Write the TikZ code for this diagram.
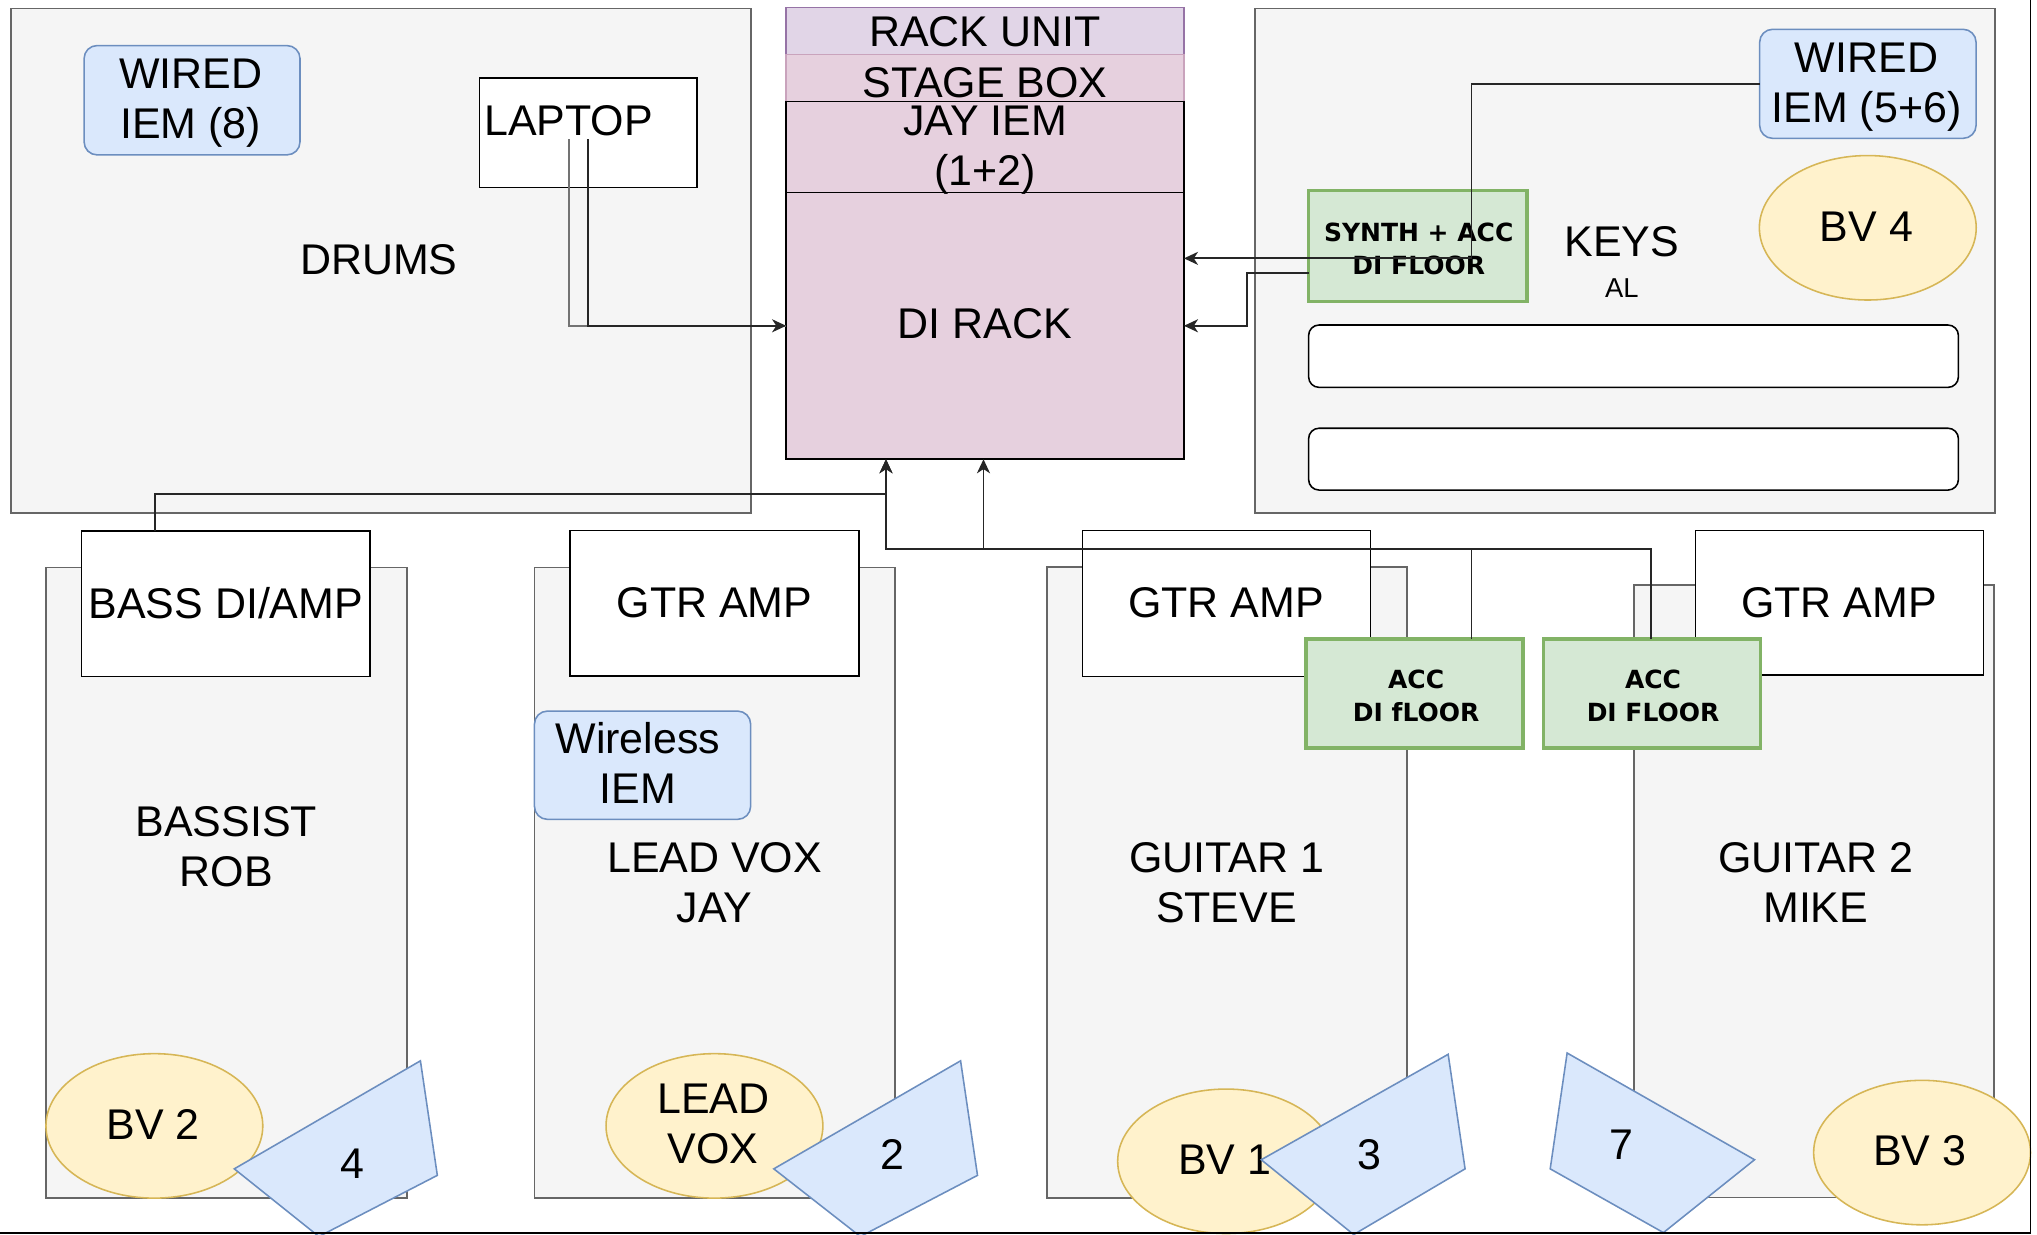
\documentclass[tikz,border=0pt]{standalone}
\usepackage{fontspec}
\setmainfont{Liberation Sans}
\newfontfamily\skfont{DejaVu Sans}
\usetikzlibrary{shapes.geometric,arrows.meta,calc}
\definecolor{grayF}{HTML}{F5F5F5}
\definecolor{grayS}{HTML}{666666}
\definecolor{blueF}{HTML}{DAE8FC}
\definecolor{blueS}{HTML}{6C8EBF}
\definecolor{yelF}{HTML}{FFF2CC}
\definecolor{yelS}{HTML}{D6B656}
\definecolor{grnF}{HTML}{D5E8D4}
\definecolor{grnS}{HTML}{82B366}
\definecolor{purF}{HTML}{E1D5E7}
\definecolor{purS}{HTML}{9673A6}
\definecolor{pnkF}{HTML}{E6D0DE}
\definecolor{pnkS}{HTML}{C9A3BC}
\newcommand\fbig{\fontsize{16.5}{19.2}\selectfont}
\newcommand\fsmall{\fontsize{10.5}{12}\selectfont}
\newcommand\fsketch{\skfont\bfseries\fontsize{9.6}{12.8}\selectfont}
\newcommand\oneln[1]{\strut#1}
\newcommand\twoln[2]{\strut#1\\\strut#2}
\newcommand\mkbox[6]{\node[#6,anchor=north west,minimum width={(#4-#2)*0.5pt},minimum height={(#5-#3)*0.5pt}] (#1) at (#2,#3) {};}
\begin{document}
\begin{tikzpicture}[x=0.5pt,y=-0.5pt,
  every node/.style={inner sep=0pt,outer sep=0pt},
  area/.style={draw=grayS,fill=grayF,line width=0.6pt},
  whitebox/.style={draw=black,fill=white,line width=0.6pt},
  bluebox/.style={draw=blueS,fill=blueF,line width=0.6pt,rounded corners=5pt},
  yelell/.style={ellipse,draw=yelS,fill=yelF,line width=0.6pt,minimum width=83.3pt,minimum height=55.5pt},
  greenbox/.style={draw=grnS,fill=grnF,line width=1.3pt},
  wedgeshape/.style={draw=blueS,fill=blueF,line width=0.6pt,line join=miter},
  keyrow/.style={draw=black,fill=white,line width=0.6pt,rounded corners=4pt},
  rackunit/.style={draw=purS,fill=purF,line width=0.6pt},
  stagebx/.style={draw=pnkS,fill=pnkF,line width=0.6pt},
  rackbox/.style={draw=black,fill=pnkF,line width=0.6pt},
  txt/.style={font=\fbig,align=center},
  smalltxt/.style={font=\fsmall,align=center},
  sketchtxt/.style={font=\fsketch,align=center},
  conn/.style={draw=black!85,line width=0.7pt},
  arr/.style={conn,-{Stealth[length=5.4pt,width=5pt,inset=1.6pt]}}
]
\useasboundingbox (0,0) rectangle (1565,948.8);
\clip (0,0) rectangle (1565,948.8);
% large areas
\mkbox{drums}{8.6}{6.4}{577}{394}{area}
\mkbox{keys}{964.4}{6.4}{1532.7}{394}{area}
\mkbox{bassist}{35.3}{436}{312.6}{920.5}{area}
\mkbox{leadvox}{410.6}{436}{687.5}{920.5}{area}
\mkbox{guitar1}{804.2}{435.6}{1081}{920.5}{area}
\mkbox{guitar2}{1255.5}{449.5}{1532}{920}{area}
% drums contents
\mkbox{wired8}{64.6}{35}{230.5}{119}{bluebox}
\mkbox{laptop}{368.5}{60}{535.5}{144}{whitebox}
% rack
\mkbox{rackunit}{604}{5.6}{909.6}{41.7}{rackunit}
\mkbox{stagebox}{604}{41.7}{909.6}{78.1}{stagebx}
\mkbox{jayiem}{604}{78.1}{909.6}{147.8}{rackbox}
\mkbox{dirack}{604}{147.8}{909.6}{352.8}{rackbox}
% keys contents
\mkbox{iem56}{1351.9}{22.5}{1518.2}{106.3}{bluebox}
\node[yelell] (bv4) at (1435,175) {};
\mkbox{synth}{1005.4}{146.5}{1173.3}{231.8}{greenbox}
\mkbox{keyrowA}{1005.4}{249.7}{1504.6}{297.6}{keyrow}
\mkbox{keyrowB}{1005.4}{329}{1504.6}{376.5}{keyrow}
% bottom row contents
\mkbox{bassdi}{62.7}{408}{284.3}{519.7}{whitebox}
\mkbox{gtrampA}{438}{407.6}{659.8}{519.5}{whitebox}
\mkbox{gtrampB}{831.6}{407.7}{1052.8}{519.6}{whitebox}
\mkbox{gtrampC}{1302.5}{407.6}{1524}{518.6}{whitebox}
\mkbox{wireless}{410.6}{546.3}{576.7}{629.5}{bluebox}
\node[yelell] (bv2) at (118.6,865) {};
\node[yelell] (leadell) at (548.9,865) {};
\node[yelell] (bv1) at (942,892.2) {};
\node[yelell] (bv3) at (1476.7,885.5) {};
% texts
\node[txt] (tdrums) at (291,203.1) {\oneln{DRUMS}};
\node[txt] (twired8) at (146.5,79.6) {\twoln{WIRED}{IEM (8)}};
\node[txt,anchor=west] (tlaptop) at (372,96.1) {\oneln{LAPTOP}};
\node[txt] (trackunit) at (756.8,28.1) {\oneln{RACK UNIT}};
\node[txt] (tstagebox) at (756.8,66.9) {\oneln{STAGE BOX}};
\node[txt] (tjayiem) at (756.8,115.9) {\twoln{JAY IEM}{(1+2)}};
\node[txt] (tdirack) at (756.8,252.4) {\oneln{DI RACK}};
\node[txt] (tiem56) at (1434,67.1) {\twoln{WIRED}{IEM (5+6)}};
\node[txt] (tbv4) at (1434,177.6) {\oneln{BV 4}};
\node[txt] (tkeys) at (1246,189.1) {\oneln{KEYS}};
\node[smalltxt] (tal) at (1246,223.7) {\oneln{AL}};
\node[sketchtxt] (tsynth) at (1090,192.9) {\twoln{SYNTH + ACC}{DI FLOOR}};
\node[txt] (tbassdi) at (173.5,467.6) {\oneln{BASS DI/AMP}};
\node[txt] (tgtrA) at (549,467.1) {\oneln{GTR AMP}};
\node[txt] (tgtrB) at (942,466.6) {\oneln{GTR AMP}};
\node[txt] (tgtrC) at (1413,466.6) {\oneln{GTR AMP}};
\node[txt] (tbassist) at (173.8,654.1) {\twoln{BASSIST}{ROB}};
\node[txt] (tleadvox) at (549,682.1) {\twoln{LEAD VOX}{JAY}};
\node[txt] (twireless) at (490,590.1) {\twoln{Wireless}{IEM}};
\node[txt] (tguitar1) at (942.3,681.8) {\twoln{GUITAR 1}{STEVE}};
\node[txt] (tguitar2) at (1395,681.8) {\twoln{GUITAR 2}{MIKE}};
\node[txt] (tbv2) at (117.6,867.6) {\oneln{BV 2}};
\node[txt] (tleadell) at (548,867.1) {\twoln{LEAD}{VOX}};
\node[txt] (tbv1) at (941,894.4) {\oneln{BV 1}};
\node[txt] (tbv3) at (1475,888.1) {\oneln{BV 3}};
% wedges
\draw[wedgeshape] (180,898) -- (323,815) -- (336,903) -- (245,950) -- cycle;
\draw[wedgeshape] (594.5,898) -- (738,815) -- (751,903) -- (661,950) -- cycle;
\draw[wedgeshape] (969,891) -- (1112.6,810) -- (1125.6,898) -- (1040,948.5) -- cycle;
\draw[wedgeshape] (1204,809) -- (1348,891) -- (1278,947) -- (1191,898) -- cycle;
\node[txt] (tw4) at (271,897.4) {\oneln{4}};
\node[txt] (tw2) at (686,890.7) {\oneln{2}};
\node[txt] (tw3) at (1052,890.7) {\oneln{3}};
\node[txt] (tw7) at (1246,883.1) {\oneln{7}};
% acc floor boxes
\mkbox{accA}{1003.5}{491}{1170}{574.8}{greenbox}
\mkbox{accB}{1186}{491}{1352.6}{574.8}{greenbox}
\node[sketchtxt] (taccA) at (1088,536.3) {\twoln{ACC}{DI fLOOR}};
\node[sketchtxt] (taccB) at (1270,536.3) {\twoln{ACC}{DI FLOOR}};
% connectors
\coordinate (lapA) at (437.3,107);
\coordinate (lapB) at (451.6,107);
\draw[conn,draw=black!55] (lapA) |- (dirack.west);
\draw[arr] (lapB) |- (dirack.west);
\coordinate (kin) at (0,198.5);
\draw[arr] (iem56.west) -| (1130.5,198.5) -- (dirack.east |- kin);
\coordinate (sy) at (0,209.5);
\draw[arr] (synth.west |- sy) -- (957.8,209.5) |- (dirack.east);
\coordinate (bx) at (118.9,0);
\coordinate (bj) at (680.7,379.8);
\draw[arr] (bassdi.north -| bx) |- (bj) -- (bj |- dirack.south);
\coordinate (aA) at (1130.5,0);
\coordinate (hj) at (680.7,421.8);
\draw[arr] (accA.north -| aA) |- (hj) -- (hj |- dirack.south);
\coordinate (aB) at (1268.5,0);
\coordinate (hk) at (755.6,421.8);
\draw[arr] (accB.north -| aB) |- (hk) -- (hk |- dirack.south);
% frame
\draw[line width=0.75pt] (0,947.5) -- (1560,947.5) -- (1560,-2);
\end{tikzpicture}
\end{document}
